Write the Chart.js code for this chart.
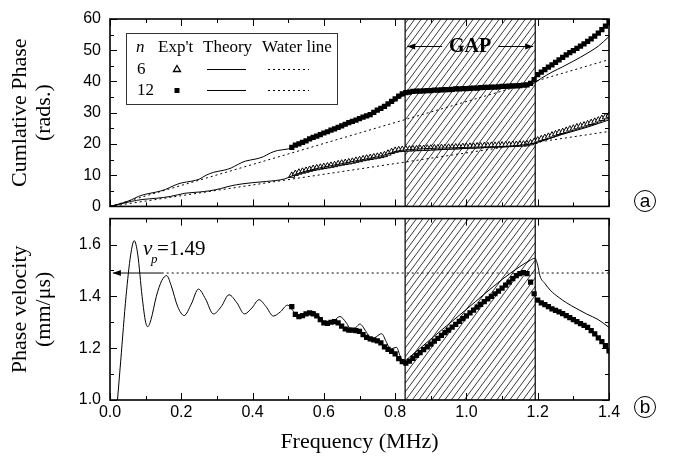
<!DOCTYPE html>
<html><head><meta charset="utf-8">
<script src="https://cdn.jsdelivr.net/npm/chart.js@4"></script>
<style>
html,body{margin:0;padding:0;background:#fff;}
#wrap{position:relative;width:673px;height:463px;overflow:hidden;background:#fff;}
canvas{position:absolute;left:0;}
#c1{top:0;}
#c2{top:200px;}
</style></head><body>
<div id="wrap"><canvas id="c1" width="673" height="225"></canvas><canvas id="c2" width="673" height="263"></canvas></div>
<script>
// ---------- data ----------
const xMajorTicks = [0, 0.2, 0.4, 0.6, 0.8, 1.0, 1.2, 1.4];
const xMinorTicks = [0.1, 0.3, 0.5, 0.7, 0.9, 1.1, 1.3];
const phaseMajorTicks = [0, 10, 20, 30, 40, 50, 60];
const phaseMinorTicks = [5, 15, 25, 35, 45, 55];
const velMajorTicks = [1.0, 1.2, 1.4, 1.6];
const velMinorTicks = [1.1, 1.3, 1.5];
const gapRange = [0.828, 1.193];

const legendHeader = ['n', "Exp't", 'Theory', 'Water line'];
const legendN = ['6', '12'];

// experimental frequencies (MHz)
const expFreq = [0.51,0.52,0.53,0.54,0.55,0.56,0.57,0.58,0.59,0.60,
 0.61,0.62,0.63,0.64,0.65,0.66,0.67,0.68,0.69,0.70,
 0.71,0.72,0.73,0.74,0.75,0.76,0.77,0.78,0.79,0.80,
 0.81,0.82,0.83,0.84,0.85,0.86,0.87,0.88,0.89,0.90,
 0.91,0.92,0.93,0.94,0.95,0.96,0.97,0.98,0.99,1.00,
 1.01,1.02,1.03,1.04,1.05,1.06,1.07,1.08,1.09,1.10,
 1.11,1.12,1.13,1.14,1.15,1.16,1.17,1.18,1.19,1.20,
 1.21,1.22,1.23,1.24,1.25,1.26,1.27,1.28,1.29,1.30,
 1.31,1.32,1.33,1.34,1.35,1.36,1.37,1.38,1.39,1.40];

// n = 12 experimental cumulative phase (rad)
const exp12Phase = [18.9,19.6,20.0,20.5,21.0,21.6,22.1,22.5,23.0,23.5,
 23.9,24.4,24.8,25.3,25.8,26.3,26.8,27.2,27.6,28.1,
 28.6,29.0,29.4,30.1,30.8,31.4,32.0,32.8,33.6,34.4,
 35.3,36.0,36.4,36.6,36.8,36.9,36.9,37.0,37.1,37.1,
 37.2,37.2,37.3,37.4,37.4,37.5,37.6,37.6,37.7,37.7,
 37.8,37.9,37.9,38.0,38.1,38.1,38.2,38.2,38.3,38.4,
 38.4,38.5,38.6,38.6,38.7,38.8,38.9,39.4,40.6,42.2,
 43.0,43.8,44.6,45.3,46.1,46.9,47.7,48.5,49.2,49.9,
 50.6,51.3,52.0,52.8,53.6,54.5,55.5,56.6,57.7,58.9];

// n = 6 experimental cumulative phase (rad)
const exp6Phase = [9.9,10.5,10.9,11.2,11.5,11.8,12.1,12.3,12.5,12.7,
 12.9,13.1,13.3,13.6,13.8,14.0,14.2,14.4,14.7,14.9,
 15.2,15.4,15.6,15.8,16.0,16.2,16.5,17.0,17.5,17.9,
 18.1,18.2,18.3,18.3,18.4,18.4,18.5,18.5,18.6,18.6,
 18.7,18.7,18.8,18.8,18.9,18.9,19.0,19.0,19.1,19.1,
 19.2,19.2,19.3,19.3,19.4,19.4,19.5,19.5,19.6,19.6,
 19.7,19.7,19.8,19.8,19.9,19.9,20.0,20.3,20.7,21.2,
 21.6,22.0,22.4,22.8,23.2,23.6,23.9,24.3,24.7,25.0,
 25.4,25.7,26.0,26.4,26.8,27.2,27.6,28.1,28.6,29.1];

// experimental phase velocity (mm/us)
const expVel = [1.36,1.33,1.322,1.326,1.332,1.336,1.332,1.325,1.31,1.298,
 1.296,1.30,1.302,1.298,1.285,1.274,1.27,1.27,1.268,1.265,
 1.252,1.242,1.236,1.232,1.228,1.22,1.205,1.195,1.188,1.178,
 1.16,1.148,1.142,1.15,1.161,1.172,1.183,1.194,1.205,1.216,
 1.227,1.238,1.249,1.26,1.27,1.281,1.292,1.303,1.314,1.325,
 1.336,1.347,1.358,1.369,1.38,1.39,1.40,1.41,1.42,1.432,
 1.443,1.455,1.468,1.48,1.488,1.492,1.488,1.455,1.41,1.385,
 1.375,1.368,1.36,1.352,1.346,1.34,1.333,1.326,1.318,1.31,
 1.302,1.295,1.288,1.28,1.268,1.255,1.24,1.225,1.21,1.19];

// theory, n = 12 phase
const th12Freq = [0,0.03,0.06,0.08,0.10,0.13,0.155,0.18,0.20,0.23,0.25,0.27,0.29,0.32,0.34,0.36,0.38,0.41,0.43,0.45,
 0.47,0.50,0.52,0.55,0.58,0.60,0.63,0.65,0.68,0.70,0.73,0.75,0.78,0.80,0.82,0.84,0.90,1.00,1.10,1.17,
 1.19,1.21,1.24,1.27,1.30,1.34,1.37,1.40];
const th12Phase = [0,0.9,2.1,3.2,3.9,4.6,5.4,6.7,7.5,8.1,8.7,10.0,10.9,11.6,12.3,13.5,14.5,15.2,15.9,17.1,
 17.9,18.4,19.3,20.8,22.2,23.1,24.5,25.5,26.8,27.8,29.3,30.4,32.3,33.8,35.3,36.4,36.9,37.6,38.3,38.7,
 39.5,41.0,43.0,44.7,46.5,49.1,51.3,54.4];

// theory, n = 6 phase
const th6Freq = [0,0.03,0.06,0.09,0.13,0.17,0.21,0.25,0.28,0.31,0.34,0.37,0.40,0.44,0.49,0.52,0.55,0.60,0.65,0.70,
 0.75,0.78,0.80,0.84,1.00,1.17,1.20,1.27,1.34,1.40];
const th6Phase = [0,0.8,1.6,2.2,2.6,3.2,4.2,4.6,5.0,5.7,6.6,7.2,7.6,8.0,8.8,10.2,11.3,12.6,13.7,14.8,
 15.9,16.8,17.6,18.2,18.9,19.8,20.6,23.1,25.4,27.7];

// water lines
const waterFreq = [0, 1.4];
const water12Phase = [0, 47];
const water6Phase = [0, 24];

// theory phase velocity
const velThFreq = [0.015,0.03,0.045,0.058,0.068,0.078,0.09,0.1,0.106,0.115,0.13,0.145,0.159,0.172,0.19,0.208,0.228,0.248,0.268,0.29,
 0.312,0.334,0.356,0.377,0.398,0.418,0.438,0.458,0.478,0.498,0.513,0.528,0.55,0.571,0.59,0.608,0.627,0.645,0.662,0.678,
 0.69,0.701,0.718,0.734,0.748,0.762,0.775,0.786,0.795,0.804,0.814,0.823,0.84,0.9,1.0,1.1,1.15,1.18,1.192,1.2,
 1.206,1.22,1.235,1.26,1.281,1.31,1.337,1.37,1.4];
const velTh = [0.9,1.15,1.4,1.56,1.615,1.56,1.4,1.3,1.283,1.31,1.4,1.46,1.48,1.44,1.36,1.326,1.37,1.428,1.39,1.332,
 1.36,1.406,1.375,1.332,1.355,1.387,1.36,1.324,1.34,1.366,1.345,1.32,1.33,1.342,1.318,1.295,1.305,1.322,1.3,1.27,
 1.28,1.293,1.265,1.234,1.245,1.256,1.225,1.197,1.2,1.203,1.17,1.148,1.165,1.235,1.35,1.465,1.515,1.54,1.547,1.52,
 1.48,1.45,1.424,1.395,1.375,1.352,1.332,1.31,1.28];

// water velocity line
const vpWater = 1.49;
const vpArrowFreq = [0.008, 0.145];
const vpDotFreq = [0.145, 1.4];

// ---------- helpers ----------
const zip = (xs, ys) => xs.map((v, i) => ({x: v, y: ys[i]}));
const SANS = '"Liberation Sans", Arial, sans-serif';
const SERIF = '"Liberation Serif", "Times New Roman", serif';

function drawHatch(chart, off) {
  const {ctx, chartArea: a, scales: {x}} = chart;
  const L = x.getPixelForValue(gapRange[0]), R = x.getPixelForValue(gapRange[1]);
  ctx.save();
  ctx.beginPath(); ctx.rect(L, a.top, R - L, a.bottom - a.top); ctx.clip();
  ctx.strokeStyle = '#222'; ctx.lineWidth = 0.9;
  const k = 1.35, s = 6.5;
  const tg = a.top + off, bg = a.bottom + off;
  const n0 = Math.floor((L + tg / k) / s) - 1, n1 = Math.ceil((R + bg / k) / s) + 1;
  ctx.beginPath();
  for (let n = n0; n <= n1; n++) {
    const c = n * s;
    ctx.moveTo(c - tg / k, a.top); ctx.lineTo(c - bg / k, a.bottom);
  }
  ctx.stroke();
  ctx.restore();
  ctx.save();
  ctx.strokeStyle = '#000'; ctx.lineWidth = 1.2;
  ctx.beginPath();
  ctx.moveTo(L, a.top); ctx.lineTo(L, a.bottom);
  ctx.moveTo(R, a.top); ctx.lineTo(R, a.bottom);
  ctx.stroke();
  ctx.restore();
}

function drawFrame(chart, yMajor, yMinor) {
  const {ctx, chartArea: a, scales: {x, y}} = chart;
  ctx.save();
  ctx.strokeStyle = '#000'; ctx.lineWidth = 1;
  ctx.beginPath();
  const xt = (arr, len) => arr.forEach(v => {
    const p = Math.round(x.getPixelForValue(v)) + 0.5;
    ctx.moveTo(p, a.bottom); ctx.lineTo(p, a.bottom - len);
    ctx.moveTo(p, a.top); ctx.lineTo(p, a.top + len);
  });
  const yt = (arr, len) => arr.forEach(v => {
    const p = Math.round(y.getPixelForValue(v)) + 0.5;
    ctx.moveTo(a.left, p); ctx.lineTo(a.left + len, p);
    ctx.moveTo(a.right, p); ctx.lineTo(a.right - len, p);
  });
  xt(xMajorTicks, 7); xt(xMinorTicks, 4);
  yt(yMajor, 7); yt(yMinor, 4);
  ctx.stroke();
  ctx.lineWidth = 1.6;
  ctx.strokeRect(a.left, a.top, a.right - a.left, a.bottom - a.top);
  ctx.restore();
}

function circled(ctx, cx, cy, letter) {
  ctx.save();
  ctx.strokeStyle = '#000'; ctx.lineWidth = 1;
  ctx.beginPath(); ctx.arc(cx, cy, 10.5, 0, Math.PI * 2); ctx.stroke();
  ctx.fillStyle = '#000'; ctx.font = '19px ' + SANS;
  ctx.textAlign = 'center'; ctx.textBaseline = 'middle';
  ctx.fillText(letter, cx, cy + 0.5);
  ctx.restore();
}

function arrowHead(ctx, x, y, dir) {
  ctx.beginPath();
  ctx.moveTo(x, y);
  ctx.lineTo(x - dir * 8, y - 3);
  ctx.lineTo(x - dir * 8, y + 3);
  ctx.closePath(); ctx.fill();
}

function drawTopExtras(chart) {
  const ctx = chart.ctx;
  const {scales: {x}} = chart;
  ctx.save();
  // legend box
  ctx.fillStyle = '#fff'; ctx.fillRect(126, 33, 211, 71);
  ctx.strokeStyle = '#333'; ctx.lineWidth = 1; ctx.strokeRect(126.5, 33.5, 211, 71);
  ctx.fillStyle = '#000'; ctx.textBaseline = 'middle'; ctx.textAlign = 'left';
  ctx.font = 'italic 17px ' + SERIF; ctx.fillText(legendHeader[0], 136, 48);
  ctx.font = '17px ' + SERIF;
  ctx.fillText(legendHeader[1], 158, 48);
  ctx.fillText(legendHeader[2], 203, 48);
  ctx.fillText(legendHeader[3], 262, 48);
  ctx.fillText(legendN[0], 137, 70);
  ctx.fillText(legendN[1], 137, 91);
  // triangle
  ctx.lineWidth = 1.3; ctx.strokeStyle = '#000';
  ctx.beginPath(); ctx.moveTo(177, 65.5); ctx.lineTo(180.5, 71.5); ctx.lineTo(173.5, 71.5); ctx.closePath(); ctx.stroke();
  // square
  ctx.fillRect(174.5, 88, 5, 5);
  // theory lines
  ctx.lineWidth = 1;
  ctx.beginPath(); ctx.moveTo(207, 69.5); ctx.lineTo(246, 69.5); ctx.moveTo(207, 90.5); ctx.lineTo(246, 90.5); ctx.stroke();
  ctx.setLineDash([2, 3]);
  ctx.beginPath(); ctx.moveTo(268, 69.5); ctx.lineTo(309, 69.5); ctx.moveTo(268, 90.5); ctx.lineTo(309, 90.5); ctx.stroke();
  ctx.setLineDash([]);
  // GAP label
  const L = x.getPixelForValue(gapRange[0]), R = x.getPixelForValue(gapRange[1]);
  const cx = (L + R) / 2, gy = 46;
  ctx.font = 'bold 20px ' + SERIF; ctx.textAlign = 'center';
  ctx.fillText('GAP', cx, gy + 1);
  ctx.lineWidth = 1;
  ctx.beginPath(); ctx.moveTo(L + 2, gy + 0.5); ctx.lineTo(cx - 28, gy + 0.5);
  ctx.moveTo(cx + 28, gy + 0.5); ctx.lineTo(R - 2, gy + 0.5); ctx.stroke();
  arrowHead(ctx, L + 2, gy + 0.5, -1);
  arrowHead(ctx, R - 2, gy + 0.5, 1);
  ctx.restore();
  circled(ctx, 645, 201, 'a');
}

function drawBottomExtras(chart) {
  const ctx = chart.ctx;
  const {scales: {x, y}} = chart;
  ctx.save();
  ctx.fillStyle = '#000';
  const py = y.getPixelForValue(vpWater);
  arrowHead(ctx, x.getPixelForValue(vpArrowFreq[0]), py, -1);
  ctx.textBaseline = 'alphabetic'; ctx.textAlign = 'left';
  ctx.font = 'italic 21px ' + SERIF; ctx.fillText('v', 143, 55);
  ctx.font = 'italic 13px ' + SERIF; ctx.fillText('p', 151, 63);
  ctx.font = '21px ' + SERIF; ctx.fillText('=1.49', 157, 55);
  ctx.restore();
  circled(ctx, 645, 207, 'b');
}

const lineDs = (data, extra) => Object.assign({data, showLine: true, borderColor: '#000', borderWidth: 1,
  pointRadius: 0, fill: false, cubicInterpolationMode: 'monotone'}, extra || {});

// ---------- top chart ----------
new Chart(document.getElementById('c1'), {
  type: 'scatter',
  data: {datasets: [
    lineDs(zip(th12Freq, th12Phase)),
    lineDs(zip(th6Freq, th6Phase)),
    lineDs(zip(waterFreq, water12Phase), {borderDash: [2, 3], cubicInterpolationMode: 'default'}),
    lineDs(zip(waterFreq, water6Phase), {borderDash: [2, 3], cubicInterpolationMode: 'default'}),
    {data: zip(expFreq, exp6Phase), pointStyle: 'triangle', pointRadius: 3.6, borderWidth: 1,
     borderColor: '#000', backgroundColor: '#fff', showLine: false},
    {data: zip(expFreq, exp12Phase), pointStyle: 'rect', pointRadius: 3.7, borderWidth: 0,
     borderColor: '#000', backgroundColor: '#000', showLine: false}
  ]},
  options: {
    responsive: false, animation: false, events: [],
    layout: {padding: {left: 0, right: 64, top: 19, bottom: 16}},
    plugins: {legend: {display: false}, tooltip: {enabled: false}},
    scales: {
      x: {type: 'linear', min: 0, max: 1.4, display: false},
      y: {type: 'linear', min: 0, max: 60, grid: {display: false, drawTicks: false}, border: {display: false},
        ticks: {stepSize: 10, color: '#000', font: {family: SANS, size: 16}, padding: 9},
        title: {display: true, text: ['Cumlative Phase', '(rads.)'], color: '#000',
          font: {family: SERIF, size: 22, lineHeight: 1.1}, padding: {top: 8, bottom: 0}},
        afterFit(s) { s.width = 110; }}
    }
  },
  plugins: [{
    id: 'topDeco',
    beforeDatasetsDraw(chart) { drawHatch(chart, 0); },
    afterDatasetsDraw(chart) { drawFrame(chart, phaseMajorTicks, phaseMinorTicks); drawTopExtras(chart); }
  }]
});

// ---------- bottom chart ----------
new Chart(document.getElementById('c2'), {
  type: 'scatter',
  data: {datasets: [
    lineDs(zip(velThFreq, velTh)),
    lineDs(zip(vpDotFreq, [vpWater, vpWater]), {borderDash: [2, 3], cubicInterpolationMode: 'default'}),
    lineDs(zip(vpArrowFreq, [vpWater, vpWater]), {cubicInterpolationMode: 'default'}),
    {data: zip(expFreq, expVel), pointStyle: 'rect', pointRadius: 3.7, borderWidth: 0,
     borderColor: '#000', backgroundColor: '#000', showLine: false}
  ]},
  options: {
    responsive: false, animation: false, events: [],
    layout: {padding: {left: 0, right: 64, top: 9, bottom: 0}},
    plugins: {legend: {display: false}, tooltip: {enabled: false}},
    scales: {
      x: {type: 'linear', min: 0, max: 1.4, grid: {display: false, drawTicks: false}, border: {display: false},
        ticks: {stepSize: 0.2, color: '#000', font: {family: SANS, size: 16}, padding: 3,
          maxRotation: 0, callback: v => Number(v).toFixed(1)},
        title: {display: true, text: 'Frequency (MHz)', color: '#000', font: {family: SERIF, size: 22},
          padding: {top: 4, bottom: 8}},
        afterFit(s) { s.height = 63; }},
      y: {type: 'linear', min: 1.0, max: 1.7, grid: {display: false, drawTicks: false}, border: {display: false},
        ticks: {stepSize: 0.2, includeBounds: false, color: '#000', font: {family: SANS, size: 16}, padding: 9,
          callback: v => (Math.abs(v - 1.7) < 1e-6 ? '' : Number(v).toFixed(1))},
        title: {display: true, text: ['Phase velocity', '(mm/\u03bcs)'], color: '#000',
          font: {family: SERIF, size: 22, lineHeight: 1.1}, padding: {top: 8, bottom: 0}},
        afterFit(s) { s.width = 110; }}
    }
  },
  plugins: [{
    id: 'botDeco',
    beforeDatasetsDraw(chart) { drawHatch(chart, 200); },
    afterDatasetsDraw(chart) { drawFrame(chart, velMajorTicks, velMinorTicks); drawBottomExtras(chart); }
  }]
});
</script>
</body></html>
